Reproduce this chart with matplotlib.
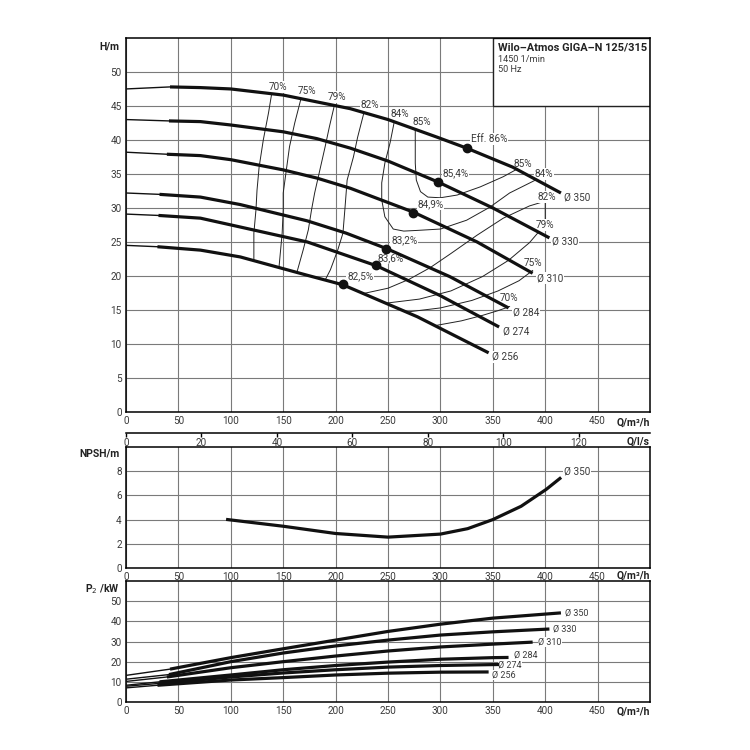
import matplotlib

matplotlib.use("Agg")
import matplotlib.pyplot as plt
from matplotlib.patches import Rectangle

plt.rcParams["font.family"] = ["Roboto", "DejaVu Sans"]

# impeller diameters, largest first
diameters = ["Ø 350", "Ø 330", "Ø 310", "Ø 284", "Ø 274", "Ø 256"]

# head curves H(Q); first segment (Q=0 -> point 1) is drawn thin
head_q = [
    [0, 42, 71, 100, 150, 182, 214, 250, 297, 325, 369, 415],
    [0, 41, 71, 100, 150, 182, 214, 250, 298, 350, 404],
    [0, 39, 71, 100, 150, 182, 214, 274, 335, 388],
    [0, 32, 71, 109, 173, 210, 249, 309, 365],
    [0, 31, 71, 109, 173, 239, 300, 356],
    [0, 30, 71, 109, 173, 207, 278, 346],
]
head_h = [
    [47.5, 47.8, 47.7, 47.5, 46.6, 45.6, 44.6, 43.0, 40.4, 38.8, 36.0, 32.2],
    [43.0, 42.8, 42.7, 42.2, 41.2, 40.2, 38.8, 36.9, 33.8, 30.0, 25.6],
    [38.2, 37.9, 37.7, 37.1, 35.6, 34.4, 32.9, 29.4, 25.0, 20.4],
    [32.2, 32.0, 31.6, 30.5, 28.1, 26.3, 24.0, 19.9, 15.3],
    [29.1, 28.9, 28.5, 27.2, 25.0, 21.5, 17.1, 12.5],
    [24.5, 24.3, 23.8, 22.8, 20.1, 18.7, 14.0, 8.7],
]

# best efficiency points
bep_q = [325, 298, 274, 248, 239, 207]
bep_h = [38.8, 33.8, 29.3, 24.0, 21.6, 18.8]
bep_text = ["Eff. 86%", "85,4%", "84,9%", "83,2%", "83,6%", "82,5%"]
bep_text_q = [329, 302, 278, 253, 240, 211]
bep_text_h = [40.1, 35.1, 30.6, 25.3, 22.6, 19.9]

# where the diameter labels sit in the H plot
dia_text_q = [418, 406, 392, 369, 360, 349]
dia_text_h = [31.5, 25.0, 19.7, 14.7, 11.9, 8.1]

# iso-efficiency lines (each a list of (Q list, H list) pieces)
eff_lines = {
    "70%": [
        ([139, 136, 131, 127, 125, 124, 122, 122],
         [46.8, 44.0, 40.0, 36.0, 32.6, 29.7, 26.3, 22.3]),
        ([295, 320, 340, 355, 366], [12.7, 13.4, 14.2, 14.9, 15.5]),
    ],
    "75%": [
        ([167, 161, 156, 153, 150, 150, 149, 146],
         [46.1, 42.5, 39.0, 35.6, 32.2, 29.7, 26.3, 21.3]),
        ([268, 300, 330, 355, 375, 388], [14.7, 15.3, 16.4, 17.8, 19.3, 20.8]),
    ],
    "79%": [
        ([199, 194, 190, 185, 180, 177, 174, 169, 163],
         [45.2, 41.9, 39.0, 35.6, 32.2, 29.7, 26.8, 23.8, 20.5]),
        ([248, 280, 310, 340, 365, 385, 400], [16.0, 16.6, 17.8, 19.9, 22.3, 24.9, 27.6]),
    ],
    "82%": [
        ([227, 221, 217, 211, 209, 207, 202, 195, 190],
         [44.0, 40.4, 37.5, 34.1, 30.1, 26.3, 23.8, 20.9, 19.4]),
        ([226, 250, 270, 290, 310, 335, 360, 385, 400, 400],
         [17.4, 18.2, 19.5, 21.2, 23.3, 26.0, 28.5, 30.3, 31.0, 27.8]),
    ],
    "84%": [
        ([256, 252, 247, 244, 244, 247, 255, 265, 278, 300, 325, 347, 366, 392],
         [42.7, 39.6, 36.6, 33.7, 31.2, 28.7, 26.9, 26.6, 26.7, 26.9, 28.2, 30.1, 32.2, 34.2]),
    ],
    "85%": [
        ([276, 276, 276, 277, 281, 288, 300, 316, 338, 360, 373],
         [41.8, 39.6, 36.6, 34.1, 32.4, 31.6, 31.5, 31.9, 33.1, 34.6, 35.7]),
    ],
}
eff_label_left = {"70%": (145, 47.8), "75%": (173, 47.2), "79%": (201, 46.3),
                  "82%": (233, 45.1), "84%": (261, 43.8), "85%": (282, 42.6)}
eff_label_right = {"85%": (379, 36.5), "84%": (399, 35.0), "82%": (401, 31.6),
                   "79%": (400, 27.5), "75%": (388, 21.9), "70%": (365, 16.8)}

# NPSH of the largest impeller
npsh_q = [97, 150, 200, 250, 300, 326, 350, 377, 401, 414]
npsh_m = [4.0, 3.45, 2.85, 2.55, 2.8, 3.25, 4.0, 5.1, 6.5, 7.4]

# shaft power P2(Q); first segment drawn thin
power_q = [
    [0, 42, 100, 150, 200, 250, 300, 350, 400, 415],
    [0, 41, 100, 150, 200, 250, 300, 350, 404],
    [0, 39, 100, 150, 200, 250, 300, 350, 388],
    [0, 32, 100, 150, 200, 250, 300, 350, 365],
    [0, 31, 100, 150, 200, 250, 300, 356],
    [0, 30, 100, 150, 200, 250, 300, 346],
]
power_kw = [
    [13.2, 16.3, 22.0, 26.4, 30.7, 35.0, 38.6, 41.6, 43.6, 44.2],
    [11.3, 13.6, 20.0, 24.3, 27.8, 30.7, 33.2, 34.8, 36.2],
    [10.2, 12.4, 17.0, 20.0, 22.8, 25.3, 27.3, 28.7, 29.7],
    [8.3, 10.0, 13.4, 16.0, 18.1, 19.8, 21.2, 22.0, 22.1],
    [7.8, 9.2, 12.4, 14.4, 16.0, 17.3, 18.1, 18.6],
    [7.0, 8.3, 10.9, 12.1, 13.4, 14.3, 14.8, 14.9],
]
power_text_q = [419, 407, 393, 370, 355, 349]
power_text_kw = [44.0, 36.0, 29.7, 23.3, 18.4, 13.4]

q_ticks = list(range(0, 451, 50))
ls_ticks = list(range(0, 121, 20))

GRID = "#7a7a7a"
TXT = "#3a3a3a"
FS = 7.2
WHITE_BOX = dict(facecolor="white", edgecolor="none", pad=0.6)

fig = plt.figure(figsize=(7.5, 7.5), dpi=100)
left, width = 0.168, 0.6987


def style_axes(ax, ymax, yticks, ylabel, qlabel_y):
    ax.set_xlim(0, 500)
    ax.set_ylim(0, ymax)
    ax.set_xticks(q_ticks)
    ax.set_yticks(yticks)
    ax.grid(True, color=GRID, linewidth=0.8, zorder=0)
    ax.set_axisbelow(True)
    ax.tick_params(length=0, labelsize=FS, labelcolor=TXT, pad=3)
    for s in ax.spines.values():
        s.set_linewidth(1.1)
    ax.text(-0.012, 0.99, ylabel, transform=ax.transAxes, ha="right", va="top",
            fontsize=7.5, fontweight="bold", color="#222222")
    ax.text(1.0, qlabel_y, "Q/m³/h", transform=ax.transAxes, ha="right", va="top",
            fontsize=7.5, fontweight="bold", color="#222222")


# ---- head chart ----
ax = fig.add_axes([left, 0.4507, width, 0.4987])
style_axes(ax, 55, list(range(0, 51, 5)), "H/m", -0.016)

ax.add_patch(Rectangle((350, 45), 150, 10, facecolor="white", edgecolor="#222222",
                       linewidth=1.0, zorder=2))
ax.text(355, 53.6, "Wilo–Atmos GIGA–N 125/315", fontsize=7.9, fontweight="bold",
        color="#222222", va="center", zorder=3)
ax.text(355, 51.9, "1450 1/min", fontsize=6.6, color=TXT, va="center", zorder=3)
ax.text(355, 50.3, "50 Hz", fontsize=6.6, color=TXT, va="center", zorder=3)

for key, pieces in eff_lines.items():
    for qs, hs in pieces:
        ax.plot(qs, hs, color="#222222", linewidth=0.7, zorder=1)
    if key in eff_label_left:
        x, y = eff_label_left[key]
        ax.text(x, y, key, fontsize=FS, color=TXT, ha="center", va="center",
                bbox=WHITE_BOX, zorder=2)
    if key in eff_label_right:
        x, y = eff_label_right[key]
        ax.text(x, y, key, fontsize=FS, color=TXT, ha="center", va="center",
                bbox=WHITE_BOX, zorder=2)

for i, name in enumerate(diameters):
    ax.plot(head_q[i][:2], head_h[i][:2], color="#111111", linewidth=1.0, zorder=3)
    ax.plot(head_q[i][1:], head_h[i][1:], color="#111111", linewidth=2.3,
            solid_capstyle="butt", solid_joinstyle="round", zorder=3)
    ax.text(dia_text_q[i], dia_text_h[i], name, fontsize=FS, color=TXT,
            ha="left", va="center", bbox=WHITE_BOX, zorder=2)
    ax.plot(bep_q[i], bep_h[i], "o", color="#111111", markersize=6, zorder=4)
    ax.text(bep_text_q[i], bep_text_h[i], bep_text[i], fontsize=FS, color=TXT,
            ha="left", va="center", bbox=WHITE_BOX, zorder=2)

# ---- NPSH chart ----
ax_n = fig.add_axes([left, 0.2427, width, 0.1613])
style_axes(ax_n, 10, [0, 2, 4, 6, 8], "NPSH/m", -0.02)
ax_n.plot(npsh_q, npsh_m, color="#111111", linewidth=2.3, zorder=3)
ax_n.text(418, 8.0, "Ø 350", fontsize=FS, color=TXT, ha="left", va="center",
          bbox=WHITE_BOX, zorder=2)

# ---- l/s scale ----
ax_ls = fig.add_axes([left, 0.4227, width, 0.0001])
ax_ls.set_zorder(5)
ax_ls.patch.set_visible(False)
ax_ls.set_xlim(0, 500 / 3.6)
ax_ls.set_xticks(ls_ticks)
ax_ls.set_yticks([])
for s in ["left", "right", "top"]:
    ax_ls.spines[s].set_visible(False)
ax_ls.spines["bottom"].set_linewidth(1.1)
ax_ls.tick_params(axis="x", direction="out", length=3, width=1.0,
                  labelsize=FS, labelcolor=TXT, pad=0.5)
ax_ls.annotate("Q/l/s", xy=(1, 0), xycoords="axes fraction", xytext=(0, -3),
               textcoords="offset points", ha="right", va="top",
               fontsize=7.5, fontweight="bold", color="#222222")

# ---- power chart ----
ax_p = fig.add_axes([left, 0.064, width, 0.1613])
style_axes(ax_p, 60, list(range(0, 51, 10)), "P$_2$ /kW", -0.04)
for i, name in enumerate(diameters):
    ax_p.plot(power_q[i][:2], power_kw[i][:2], color="#111111", linewidth=1.0, zorder=3)
    ax_p.plot(power_q[i][1:], power_kw[i][1:], color="#111111", linewidth=2.3,
              solid_capstyle="butt", solid_joinstyle="round", zorder=3)
    ax_p.text(power_text_q[i], power_text_kw[i], name, fontsize=6.5, color=TXT,
              ha="left", va="center", bbox=dict(facecolor="white", edgecolor="none", pad=0.2),
              zorder=2)

fig.savefig("out.png", dpi=100, facecolor="white")
